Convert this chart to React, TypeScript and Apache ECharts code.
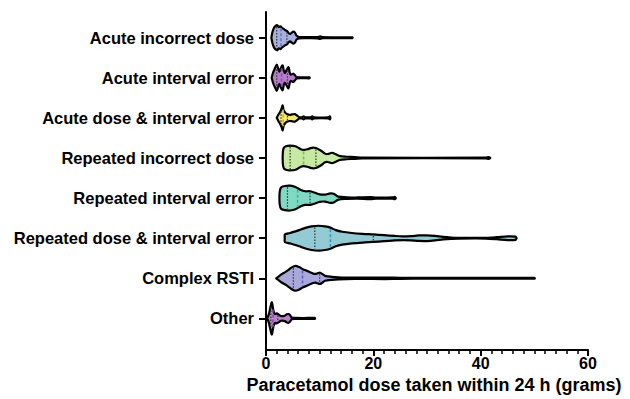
import React, { useEffect, useRef } from "react";
import * as echarts from "echarts";

const categories = [
  "Acute incorrect dose",
  "Acute interval error",
  "Acute dose & interval error",
  "Repeated incorrect dose",
  "Repeated interval error",
  "Repeated dose & interval error",
  "Complex RSTI",
  "Other",
];

// density profiles: [dose (g), relative density]
const acuteIncorrectDose: number[][] = [
  [1.0, 0], [1.2, 0.45], [1.5, 0.8], [1.8, 0.95], [2.1, 1.0], [2.4, 0.85], [2.7, 0.92],
  [3.0, 0.78], [3.3, 0.7], [3.6, 0.6], [3.9, 0.55], [4.2, 0.38], [4.5, 0.3], [4.8, 0.4],
  [5.1, 0.48], [5.4, 0.4], [5.7, 0.15], [6.2, 0.05], [8, 0.04], [9.6, 0.05], [10.1, 0.1],
  [10.6, 0.04], [13, 0.03], [16.1, 0.03], [16.15, 0],
];
const acuteIntervalError: number[][] = [
  [1.05, 0], [1.3, 0.4], [1.6, 0.7], [2.0, 1.05], [2.3, 0.7], [2.5, 0.5], [2.8, 0.8],
  [3.1, 1.0], [3.3, 0.6], [3.5, 0.38], [3.8, 0.6], [4.2, 0.85], [4.4, 0.45], [4.6, 0.25],
  [4.9, 0.3], [5.1, 0.33], [5.4, 0.2], [5.7, 0.05], [7, 0.03], [8.1, 0.04], [8.15, 0],
];
const acuteDoseIntervalError: number[][] = [
  [2.0, 0], [2.3, 0.25], [2.6, 0.45], [2.9, 0.75], [3.1, 1.0], [3.3, 0.6], [3.6, 0.42],
  [4.0, 0.3], [4.4, 0.25], [4.9, 0.28], [5.4, 0.3], [5.8, 0.18], [6.2, 0.05], [6.7, 0.05],
  [7.0, 0.12], [7.3, 0.05], [8.3, 0.05], [8.6, 0.12], [8.9, 0.04], [11.6, 0.04], [11.9, 0.12],
  [12.0, 0],
];
const repeatedIncorrectDose: number[][] = [
  [3.1, 0], [3.15, 0.5], [3.3, 0.8], [3.7, 0.95], [4.5, 1.0], [5.5, 0.95], [6.5, 0.7],
  [7.0, 0.65], [7.7, 0.7], [8.5, 0.82], [9.3, 0.8], [10.2, 0.6], [11.0, 0.35], [11.5, 0.32],
  [12.3, 0.42], [13.0, 0.3], [13.8, 0.15], [15, 0.1], [16.5, 0.07], [18, 0.03], [41.0, 0.03],
  [41.5, 0.08], [41.8, 0],
];
const repeatedIntervalError: number[][] = [
  [2.5, 0], [2.55, 0.5], [2.8, 0.85], [3.5, 0.97], [4.5, 1.0], [5.5, 0.9], [6.5, 0.65],
  [7.3, 0.55], [8.2, 0.55], [9.0, 0.45], [10.0, 0.3], [11.0, 0.28], [12.0, 0.38], [12.6, 0.35],
  [13.5, 0.12], [15, 0.07], [17, 0.05], [19.5, 0.08], [20.5, 0.04], [23.6, 0.05], [24.0, 0.09],
  [24.2, 0],
];
const repeatedDoseIntervalError: number[][] = [
  [3.5, 0], [3.52, 0.3], [4.5, 0.42], [5.5, 0.55], [6.5, 0.7], [7.5, 0.85], [8.5, 0.95],
  [9.8, 1.0], [11, 0.95], [12, 0.85], [13, 0.65], [14.2, 0.52], [16, 0.42], [18, 0.35],
  [20, 0.3], [22, 0.24], [24, 0.18], [25.5, 0.15], [27, 0.17], [28.5, 0.22], [30, 0.23],
  [31.5, 0.18], [33, 0.1], [34.5, 0.05], [36, 0.03], [41, 0.03], [43, 0.08], [45, 0.15],
  [46.5, 0.13], [46.7, 0],
];
const complexRsti: number[][] = [
  [1.9, 0], [2.5, 0.2], [3.0, 0.36], [3.6, 0.5], [4.2, 0.68], [4.8, 0.88], [5.5, 1.0],
  [6.2, 0.9], [6.8, 0.75], [7.5, 0.62], [8.2, 0.48], [8.8, 0.38], [9.2, 0.35], [9.7, 0.42],
  [10.1, 0.45], [10.6, 0.32], [11.0, 0.2], [12.3, 0.12], [13.5, 0.08], [15, 0.06], [18, 0.05],
  [22, 0.06], [25, 0.04], [30, 0.03], [50, 0.03], [50.1, 0],
];
const other: number[][] = [
  [0.2, 0], [0.5, 0.3], [0.8, 0.85], [1.1, 1.3], [1.4, 0.6], [1.7, 0.35], [2.0, 0.4],
  [2.4, 0.3], [2.7, 0.2], [3.0, 0.18], [3.5, 0.22], [3.9, 0.33], [4.2, 0.35], [4.5, 0.25],
  [4.8, 0.07], [5.5, 0.04], [7, 0.03], [9.1, 0.04], [9.15, 0],
];

const profiles = [
  acuteIncorrectDose,
  acuteIntervalError,
  acuteDoseIntervalError,
  repeatedIncorrectDose,
  repeatedIntervalError,
  repeatedDoseIntervalError,
  complexRsti,
  other,
];

const q1Values = [2.0, 2.0, 2.8, 4.5, 4.0, 9.1, 5.1, 0.9];
const medianValues = [2.8, 2.9, 3.2, 7.0, 5.9, 12.0, 6.8, 1.3];
const q3Values = [3.9, 4.0, 4.0, 9.3, 8.2, 20.0, 10.0, 2.2];

const fillColors = ["#a7afdc", "#b57ec9", "#f5e86a", "#c7eaa3", "#80d9c4", "#93cbd4", "#a8a8da", "#b982ca"];
const medianColors = ["#6a76c4", "#8b4aae", "#c9b21c", "#72c44a", "#3db497", "#3a93b6", "#5860c0", "#8b4aae"];

function halfAt(profile: number[][], x: number): number {
  for (let k = 0; k < profile.length - 1; k++) {
    const [x0, w0] = profile[k];
    const [x1, w1] = profile[k + 1];
    if (x >= x0 && x <= x1) return w0 + ((w1 - w0) * (x - x0)) / (x1 - x0);
  }
  return 0;
}

export default function App() {
  const ref = useRef<HTMLDivElement>(null);
  useEffect(() => {
    const chart = echarts.init(ref.current!, null, { renderer: "svg" });
    const positions = categories.map((_, i) => i + 1);
    const font = "'Liberation Sans', Arial, Helvetica, sans-serif";
    chart.setOption({
      animation: false,
      grid: { left: 266, right: 42, top: 12, bottom: 47, containLabel: false },
      xAxis: {
        type: "value",
        min: 0,
        max: 60,
        interval: 20,
        splitLine: { show: false },
        axisLine: { show: true, onZero: false, lineStyle: { color: "#000", width: 2 } },
        axisTick: { show: true, length: 6, lineStyle: { color: "#000", width: 2 } },
        minorTick: { show: true, splitNumber: 10, length: 4, lineStyle: { color: "#000", width: 1.5 } },
        axisLabel: { fontSize: 16, fontWeight: "bold", color: "#000", fontFamily: font, margin: 5 },
        name: "Paracetamol dose taken within 24 h (grams)",
        nameLocation: "middle",
        nameGap: 24,
        nameTextStyle: {
          fontSize: 18,
          fontWeight: "bold",
          color: "#000",
          fontFamily: font,
          padding: [0, 0, 0, 14],
          verticalAlign: "top",
        },
      },
      yAxis: {
        type: "value",
        inverse: true,
        min: 0.36,
        max: 8.79,
        splitLine: { show: false },
        axisLine: { show: true, lineStyle: { color: "#000", width: 2 } },
        axisTick: { show: true, customValues: positions, length: 7, lineStyle: { color: "#000", width: 2 } },
        axisLabel: {
          customValues: positions,
          formatter: (v: number) => categories[Math.round(v) - 1] ?? "",
          fontSize: 16.5,
          fontWeight: "bold",
          color: "#000",
          fontFamily: font,
          margin: 12,
        },
      },
      series: [
        {
          type: "custom",
          coordinateSystem: "cartesian2d",
          encode: { x: 0, y: 1 },
          data: categories.map((_, i) => [medianValues[i], i + 1, i]),
          renderItem: (params: any, api: any) => {
            const i = api.value(2) as number;
            const prof = profiles[i];
            const yv = i + 1;
            const s = Math.abs(api.size([0, 1])[1]) * 0.31;
            const top = prof.map(([d, w]) => {
              const p = api.coord([d, yv]);
              return [p[0], p[1] - w * s];
            });
            const bottom = prof
              .slice()
              .reverse()
              .map(([d, w]) => {
                const p = api.coord([d, yv]);
                return [p[0], p[1] + w * s];
              });
            const children: any[] = [
              {
                type: "polygon",
                shape: { points: top.concat(bottom), smooth: 0.3 },
                style: { fill: fillColors[i], stroke: "#000", lineWidth: 2.2, lineJoin: "round" },
              },
            ];
            const qs = [q1Values[i], medianValues[i], q3Values[i]];
            qs.forEach((q, k) => {
              const p = api.coord([q, yv]);
              const h = halfAt(prof, q) * s - 1.5;
              if (h <= 0) return;
              children.push({
                type: "line",
                shape: { x1: p[0], y1: p[1] - h, x2: p[0], y2: p[1] + h },
                style:
                  k === 1
                    ? { stroke: medianColors[i], lineWidth: 1.6, lineDash: [3, 2] }
                    : { stroke: "#333", lineWidth: 1.2, lineDash: [1.5, 1.5] },
              });
            });
            return { type: "group", children };
          },
        },
      ],
    });
    return () => chart.dispose();
  }, []);
  return <div ref={ref} style={{ position: "absolute", left: 0, top: 0, width: 630, height: 399 }} />;
}
